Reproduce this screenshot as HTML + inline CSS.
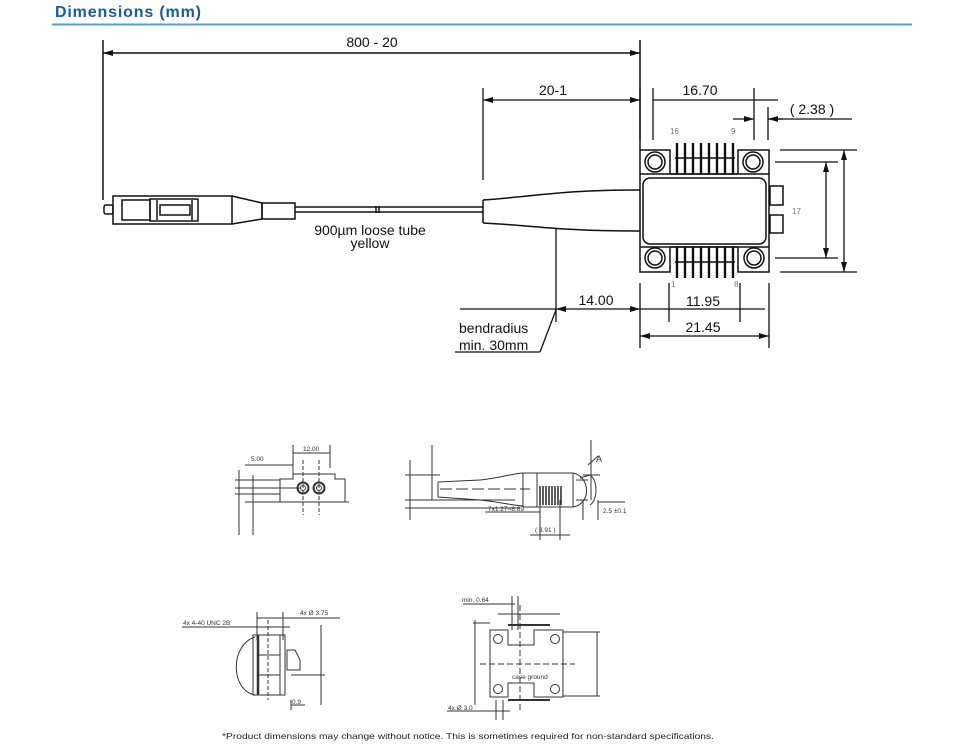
<!DOCTYPE html>
<html><head><meta charset="utf-8"><style>
html,body{margin:0;padding:0;background:#fff;}
svg{display:block;}
</style></head><body>
<svg width="960" height="745" viewBox="0 0 960 745" xmlns="http://www.w3.org/2000/svg" font-family="Liberation Sans, Arial, sans-serif">
<defs>
<marker id="a" viewBox="0 0 10 6" refX="10" refY="3" markerWidth="10" markerHeight="6" orient="auto-start-reverse" markerUnits="userSpaceOnUse"><path d="M0,0 L10,3 L0,6 z" fill="#111"/></marker>
</defs>
<text x="55" y="17" font-size="16" font-weight="bold" fill="#1d5b96" textLength="146">Dimensions (mm)</text>
<line x1="52" y1="24.5" x2="912" y2="24.5" stroke="#5d9dc9" stroke-width="2"/>

<g stroke="#111" fill="none" stroke-width="1.5">
<line x1="103" y1="40" x2="103" y2="200"/>
<line x1="640" y1="40" x2="640" y2="150"/>
<line x1="103" y1="53" x2="640" y2="53" marker-start="url(#a)" marker-end="url(#a)"/>
<rect x="104" y="205" width="9" height="9" rx="2"/>
<rect x="113" y="196" width="119" height="28"/>
<rect x="122" y="200" width="28" height="20"/>
<path d="M150,199 H198 V221 H150 z M157,200 V220 M192,200 V220 M160,205 H190 V215 H160 z"/>
<path d="M232,196 L262,203 V219 L232,224"/>
<rect x="262" y="203" width="33" height="16"/>
<line x1="295" y1="207" x2="483" y2="207"/>
<line x1="295" y1="212" x2="483" y2="212"/>
<line x1="376" y1="206" x2="376" y2="213"/><line x1="379" y1="206" x2="379" y2="213"/>
<path d="M483,200 C540,196 560,190 640,190 M483,223 C540,226 560,231 640,231 M483,200 V223"/>
<path d="M640,150 H670 V174 H738 V150 H769 V272 H738 V247 H670 V272 H640 z"/>
<line x1="640" y1="174" x2="769" y2="174"/>
<line x1="640" y1="247" x2="769" y2="247"/>
<rect x="643" y="178" width="123" height="66" rx="7"/>
<circle cx="655" cy="162" r="10"/><circle cx="655" cy="162" r="7"/>
<circle cx="753" cy="162" r="10"/><circle cx="753" cy="162" r="7"/>
<circle cx="655" cy="258" r="10"/><circle cx="655" cy="258" r="7"/>
<circle cx="754" cy="258" r="10"/><circle cx="754" cy="258" r="7"/>
<rect x="770" y="186" width="13" height="19"/>
<rect x="770" y="215" width="13" height="18"/>
</g>
<g stroke="#111" stroke-width="2.4">
<path d="M677,143V174M685,143V174M693,143V174M701,143V174M709,143V174M717,143V174M725,143V174M733,143V174"/>
<path d="M677,247V278M685,247V278M693,247V278M701,247V278M709,247V278M717,247V278M725,247V278M733,247V278"/>
<line x1="675" y1="158" x2="735" y2="158" stroke-width="1.5"/>
<line x1="675" y1="262" x2="735" y2="262" stroke-width="1.5"/>
</g>
<g stroke="#111" fill="none" stroke-width="1.3">
<line x1="483" y1="88" x2="483" y2="180"/>
<line x1="483" y1="100" x2="640" y2="100" marker-start="url(#a)" marker-end="url(#a)"/>
<line x1="653" y1="88" x2="653" y2="140"/>
<line x1="754" y1="88" x2="754" y2="140"/>
<line x1="640" y1="88" x2="640" y2="140"/>
<line x1="653" y1="100" x2="754" y2="100"/>
<line x1="754" y1="100" x2="778" y2="100"/>
<line x1="768" y1="107" x2="768" y2="140"/>
<line x1="733" y1="119" x2="754" y2="119" marker-end="url(#a)"/>
<line x1="783" y1="119" x2="768" y2="119" marker-end="url(#a)"/>
<line x1="768" y1="119" x2="852" y2="119"/>
<line x1="780" y1="150" x2="857" y2="150"/>
<line x1="780" y1="272" x2="857" y2="272"/>
<line x1="844" y1="150" x2="844" y2="272" marker-start="url(#a)" marker-end="url(#a)"/>
<line x1="775" y1="162" x2="838" y2="162"/>
<line x1="775" y1="258" x2="838" y2="258"/>
<line x1="826" y1="162" x2="826" y2="258" marker-start="url(#a)" marker-end="url(#a)"/>
<line x1="556" y1="228" x2="556" y2="322"/>
<line x1="460" y1="309" x2="556" y2="309"/>
<line x1="556" y1="309" x2="640" y2="309" marker-start="url(#a)" marker-end="url(#a)"/>
<line x1="640" y1="283" x2="640" y2="348"/>
<line x1="769" y1="283" x2="769" y2="348"/>
<line x1="669" y1="283" x2="669" y2="322"/>
<line x1="740" y1="283" x2="740" y2="322"/>
<line x1="640" y1="309" x2="765" y2="309"/>
<line x1="640" y1="336" x2="769" y2="336" marker-start="url(#a)" marker-end="url(#a)"/>
<line x1="540" y1="352" x2="556" y2="310"/>
<line x1="455" y1="352" x2="540" y2="352"/>
</g>
<g fill="#111" font-size="14">
<text x="372" y="47" text-anchor="middle">800 - 20</text>
<text x="553" y="95" text-anchor="middle">20-1</text>
<text x="700" y="95" text-anchor="middle">16.70</text>
<text x="812" y="114" text-anchor="middle">( 2.38 )</text>
<text x="370" y="235" text-anchor="middle">900µm loose tube</text>
<text x="370" y="248" text-anchor="middle">yellow</text>
<text x="596" y="305" text-anchor="middle">14.00</text>
<text x="703" y="306" text-anchor="middle">11.95</text>
<text x="703" y="332" text-anchor="middle">21.45</text>
<text x="459" y="333">bendradius</text>
<text x="459" y="350">min. 30mm</text>
</g>
<g fill="#777" font-size="8">
<text x="670" y="134">16</text><text x="731" y="134">9</text>
<text x="792" y="214">17</text>
<text x="671" y="287">1</text><text x="734" y="287">8</text>
</g>

<g stroke="#333" fill="none" stroke-width="1">
<path d="M280,502 V479 H293 V474 H335 V479 H345 V502"/>
<line x1="276" y1="502" x2="349" y2="502"/>
<circle cx="303" cy="488" r="5.5" stroke-width="2"/><circle cx="303" cy="488" r="2.5"/>
<circle cx="319" cy="488" r="5.5" stroke-width="2"/><circle cx="319" cy="488" r="2.5"/>
<line x1="303" y1="460" x2="303" y2="515" stroke-dasharray="4,2"/>
<line x1="319" y1="460" x2="319" y2="515" stroke-dasharray="4,2"/>
<line x1="245" y1="465" x2="293" y2="465"/>
<line x1="293" y1="445" x2="293" y2="478"/>
<line x1="330" y1="445" x2="330" y2="468"/>
<line x1="293" y1="453" x2="330" y2="453"/>
<line x1="235" y1="480" x2="280" y2="480"/>
<line x1="235" y1="488" x2="300" y2="488"/>
<line x1="235" y1="494" x2="280" y2="494"/>
<line x1="245" y1="502" x2="276" y2="502"/>
<line x1="239" y1="470" x2="239" y2="535"/>
<line x1="253" y1="475" x2="253" y2="535"/>
<line x1="432" y1="445" x2="432" y2="500"/>
<line x1="410" y1="460" x2="410" y2="520"/>
<line x1="405" y1="475" x2="440" y2="475"/>
<line x1="405" y1="500" x2="515" y2="500"/>
<line x1="405" y1="508" x2="520" y2="508"/>
<path d="M438,482 L438,497 L480,500 C500,502 510,505 523,506 M438,482 L480,480 C500,478 510,474 523,473"/>
<line x1="440" y1="489" x2="530" y2="489" stroke-dasharray="12,4"/>
<rect x="523" y="473" width="50" height="34"/>
<line x1="537" y1="473" x2="537" y2="507"/>
<path d="M540,486V505M543,486V505M546,486V505M549,486V505M552,486V505M555,486V505M558,486V505M561,486V505" stroke-width="1.6"/>
<path d="M573,473 C590,476 592,504 573,507 M576,480 H588 M576,500 H588"/>
<path d="M580,478 L590,475 C598,480 598,500 590,505"/>
<line x1="588" y1="465" x2="598" y2="456"/>
<line x1="591" y1="440" x2="591" y2="500"/>
<line x1="583" y1="475" x2="600" y2="475"/>
<line x1="598" y1="502" x2="625" y2="502"/>
<line x1="485" y1="512" x2="540" y2="512"/>
<line x1="540" y1="500" x2="540" y2="540"/>
<line x1="560" y1="500" x2="560" y2="540"/>
<line x1="530" y1="535" x2="570" y2="535"/>
<line x1="583" y1="500" x2="583" y2="520"/>
<line x1="598" y1="500" x2="598" y2="520"/>
<path d="M255,637 C230,645 230,690 255,695"/>
<rect x="253" y="635" width="32" height="60"/>
<line x1="258" y1="635" x2="258" y2="695" stroke-width="2.5"/>
<line x1="280" y1="635" x2="280" y2="695"/>
<line x1="258" y1="655" x2="280" y2="655"/>
<line x1="258" y1="675" x2="280" y2="675"/>
<line x1="268" y1="620" x2="268" y2="700" stroke-dasharray="4,2"/>
<path d="M287,650 H295 L300,660 V670 H287 z"/>
<line x1="182" y1="627" x2="290" y2="627"/>
<line x1="257" y1="612" x2="257" y2="640"/>
<line x1="283" y1="612" x2="283" y2="640"/>
<line x1="257" y1="618" x2="340" y2="618"/>
<line x1="291" y1="675" x2="325" y2="675"/>
<line x1="321" y1="625" x2="321" y2="705"/>
<line x1="291" y1="700" x2="291" y2="710"/>
<line x1="291" y1="705" x2="305" y2="705"/>
<path d="M490,630 H508 V645 H534 V630 H563 V697 H534 V683 H508 V697 H490 z"/>
<circle cx="498" cy="639" r="4.5"/><circle cx="555" cy="639" r="4.5"/>
<circle cx="498" cy="689" r="4.5"/><circle cx="555" cy="689" r="4.5"/>
<line x1="520" y1="605" x2="520" y2="710" stroke-dasharray="6,3"/>
<line x1="480" y1="664" x2="575" y2="664" stroke-dasharray="6,3"/>
<line x1="508" y1="625" x2="550" y2="625" stroke-width="2"/><line x1="508" y1="700" x2="550" y2="700" stroke-width="2"/>
<line x1="463" y1="604" x2="515" y2="604"/>
<line x1="512" y1="596" x2="512" y2="630"/>
<line x1="518" y1="596" x2="518" y2="630"/>
<line x1="498" y1="614" x2="560" y2="614"/>
<line x1="473" y1="623" x2="490" y2="623"/>
<line x1="475" y1="620" x2="475" y2="705"/>
<line x1="563" y1="632" x2="600" y2="632"/>
<line x1="563" y1="696" x2="600" y2="696"/>
<line x1="597" y1="632" x2="597" y2="696"/>
<line x1="447" y1="711" x2="510" y2="711"/>
<line x1="496" y1="700" x2="496" y2="720"/>
<line x1="503" y1="700" x2="503" y2="720"/>
</g>
<g fill="#333" font-size="6.5">
<text x="251" y="461">5.00</text>
<text x="303" y="451">12.00</text>
<text x="488" y="511">7x1.27=8.89</text>
<text x="535" y="532">( 3.91 )</text>
<text x="603" y="513">2.5 ±0.1</text>
<text x="596" y="462" font-size="9">A</text>
<text x="183" y="625">4x 4-40 UNC 2B</text>
<text x="300" y="615">4x Ø 3.75</text>
<text x="292" y="704">0.9</text>
<text x="462" y="602">min. 0.64</text>
<text x="448" y="710">4x Ø 3.0</text>
<text x="512" y="679">case ground</text>
</g>
<text x="222" y="739" font-size="8.5" fill="#222" textLength="492" lengthAdjust="spacingAndGlyphs">*Product dimensions may change without notice. This is sometimes required for non-standard specifications.</text>
</svg>
</body></html>
